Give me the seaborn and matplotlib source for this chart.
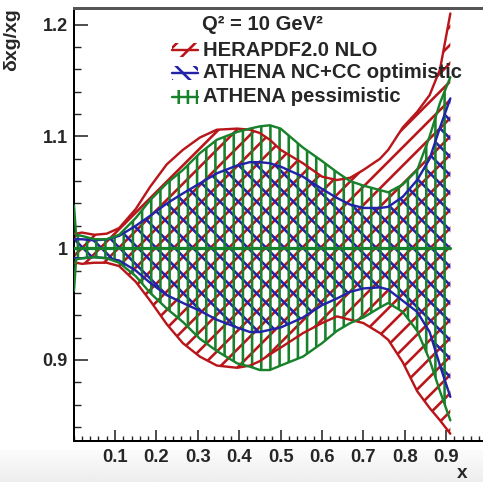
import numpy as np
import pandas as pd
import matplotlib
matplotlib.use("Agg")
import matplotlib.pyplot as plt
import seaborn as sns
from matplotlib.patches import Rectangle
from matplotlib.lines import Line2D
from matplotlib.ticker import MultipleLocator, FixedLocator

# ---- data: relative gluon uncertainty bands at Q^2 = 10 GeV^2 ----
x = [0.001, 0.006, 0.02, 0.05, 0.08, 0.11, 0.15, 0.185, 0.225, 0.264, 0.305,
     0.346, 0.395, 0.426, 0.45, 0.474, 0.5, 0.554, 0.6, 0.636, 0.668, 0.7,
     0.74, 0.76, 0.795, 0.83, 0.86, 0.885, 0.91]

hera_up = [1.013, 1.013, 1.014, 1.012, 1.013, 1.018, 1.035, 1.055, 1.075, 1.088, 1.099,
           1.106, 1.107, 1.106, 1.103, 1.097, 1.088, 1.076, 1.064, 1.061, 1.063, 1.070,
           1.080, 1.088, 1.108, 1.122, 1.137, 1.160, 1.210]
hera_lo = [0.987, 0.987, 0.986, 0.987, 0.987, 0.984, 0.970, 0.953, 0.932, 0.915, 0.903,
           0.895, 0.893, 0.895, 0.899, 0.905, 0.911, 0.924, 0.933, 0.939, 0.936, 0.933,
           0.924, 0.918, 0.898, 0.872, 0.857, 0.846, 0.834]

opt_up = [1.008, 1.008, 1.008, 1.007, 1.008, 1.011, 1.020, 1.029, 1.040, 1.049, 1.058,
          1.067, 1.074, 1.077, 1.077, 1.076, 1.073, 1.064, 1.053, 1.045, 1.039, 1.036,
          1.036, 1.037, 1.046, 1.061, 1.080, 1.108, 1.134]
opt_lo = [0.991, 0.991, 0.991, 0.992, 0.991, 0.989, 0.980, 0.969, 0.958, 0.951, 0.944,
          0.936, 0.929, 0.925, 0.925, 0.927, 0.929, 0.938, 0.949, 0.955, 0.961, 0.964,
          0.965, 0.963, 0.953, 0.943, 0.925, 0.895, 0.867]

pes_up = [1.038, 1.012, 1.011, 1.008, 1.008, 1.012, 1.027, 1.043, 1.058, 1.070, 1.085,
          1.097, 1.104, 1.107, 1.109, 1.110, 1.107, 1.090, 1.078, 1.068, 1.060, 1.056,
          1.052, 1.050, 1.057, 1.070, 1.100, 1.130, 1.153]
pes_lo = [0.962, 0.990, 0.991, 0.992, 0.991, 0.987, 0.975, 0.960, 0.946, 0.934, 0.919,
          0.908, 0.897, 0.894, 0.891, 0.891, 0.895, 0.903, 0.915, 0.926, 0.933, 0.938,
          0.947, 0.951, 0.943, 0.926, 0.900, 0.872, 0.846]

central = [1.0] * len(x)

series_names = ["HERAPDF2.0 NLO", "ATHENA NC+CC optimistic", "ATHENA pessimistic"]
header = "Q² = 10 GeV²"
x_ticks = [0.1, 0.2, 0.3, 0.4, 0.5, 0.6, 0.7, 0.8, 0.9]
x_ticklabels = ["0.1", "0.2", "0.3", "0.4", "0.5", "0.6", "0.7", "0.8", "0.9"]
y_ticks = [0.9, 1.0, 1.1, 1.2]
y_ticklabels = ["0.9", "1", "1.1", "1.2"]

# ---- styling ----
RED, BLUE, GREEN = "#b8161a", "#2323a8", "#17822b"
colors = [RED, BLUE, GREEN]
hatches = ["//", "\\\\", "||"]

DPI = 110
W, H = 483, 482
PT = 72.0 / DPI  # points per pixel
HATCH_LW = 2.6 * PT

sns.set_style("ticks")
plt.rcParams["font.family"] = ["Liberation Sans", "DejaVu Sans"]
plt.rcParams["hatch.linewidth"] = HATCH_LW


def thick_hatch(artist):
    if hasattr(artist, "set_hatch_linewidth"):
        artist.set_hatch_linewidth(HATCH_LW)
    else:
        artist._hatch_linewidth = HATCH_LW
    return artist


fig = plt.figure(figsize=(W / DPI, H / DPI), dpi=DPI)
fig.patch.set_facecolor("white")

# soft grey strip along the bottom edge
bg = fig.add_axes([0, 0, 1, 32 / H], zorder=-5)
grad = np.linspace(0.985, 0.93, 64).reshape(-1, 1)
bg.imshow(grad, aspect="auto", cmap="gray", vmin=0, vmax=1, extent=[0, 1, 0, 1])
bg.axis("off")

ax = fig.add_axes([73.6 / W, (H - 441) / H, 414 / W, 433 / H])
ax.set_facecolor("white")

bands = pd.DataFrame({"x": x,
                      "hera_up": hera_up, "hera_lo": hera_lo,
                      "opt_up": opt_up, "opt_lo": opt_lo,
                      "pes_up": pes_up, "pes_lo": pes_lo,
                      "central": central})

for (up, lo), col, hat in zip([("hera_up", "hera_lo"), ("opt_up", "opt_lo"),
                                ("pes_up", "pes_lo")], colors, hatches):
    coll = ax.fill_between(bands["x"], bands[lo], bands[up], facecolor="none",
                           edgecolor=col, hatch=hat, linewidth=0, zorder=2)
    thick_hatch(coll)
    for key in (up, lo):
        sns.lineplot(data=bands, x="x", y=key, ax=ax, color=col,
                     linewidth=2.4 * PT, legend=False, zorder=3)

sns.lineplot(data=bands, x="x", y="central", ax=ax, color=GREEN,
             linewidth=3.2 * PT, legend=False, zorder=4)

ax.set_xlim(0.0, 1.0)
ax.set_ylim(0.8275, 1.2149)
ax.set_xlabel("")
ax.set_ylabel("")

ax.xaxis.set_major_locator(FixedLocator(x_ticks))
ax.xaxis.set_minor_locator(MultipleLocator(0.02))
ax.yaxis.set_major_locator(FixedLocator(y_ticks))
ax.yaxis.set_minor_locator(MultipleLocator(0.02))
ax.set_xticklabels(x_ticklabels, fontsize=18.5 * PT, fontweight="bold")
ax.set_yticklabels(y_ticklabels, fontsize=18.0 * PT, fontweight="bold")

ax.tick_params(axis="y", which="major", direction="in", length=14 * PT,
               width=1.6 * PT, pad=6 * PT, left=True, right=False)
ax.tick_params(axis="y", which="minor", direction="in", length=7 * PT,
               width=1.4 * PT, left=True, right=False)
ax.tick_params(axis="x", which="major", direction="in", length=11 * PT,
               width=1.6 * PT, pad=8 * PT, bottom=True, top=False)
ax.tick_params(axis="x", which="minor", direction="in", length=5.5 * PT,
               width=1.4 * PT, bottom=True, top=False)

for side in ("left", "bottom"):
    ax.spines[side].set_linewidth(2.0 * PT)
    ax.spines[side].set_color("black")
ax.spines["top"].set_linewidth(3.0 * PT)
ax.spines["top"].set_color("#555555")
ax.spines["right"].set_linewidth(2.0 * PT)

# axis titles
fig.text(12 / W, 1 - 8 / H, "δxg/xg", rotation=90, ha="center", va="top",
         fontsize=19.5 * PT, fontweight="bold")
fig.text(462 / W, 1 - 473 / H, "x", ha="center", va="center",
         fontsize=19 * PT, fontweight="bold")

# legend
fs_leg = 20.2 * PT
fig.text(202 / W, 1 - 25 / H, header, ha="left", va="center",
         fontsize=fs_leg, fontweight="bold")
rows_y = [50, 73, 97]
for name, col, hat, yc in zip(series_names, colors, hatches, rows_y):
    sym = Rectangle((172 / W, 1 - (yc + 7) / H), 26 / W, 14 / H,
                    transform=fig.transFigure, facecolor="none",
                    edgecolor=col, hatch=hat, linewidth=0, zorder=5)
    fig.patches.append(thick_hatch(sym))
    fig.lines.append(Line2D([172 / W, 198 / W], [1 - yc / H, 1 - yc / H],
                            transform=fig.transFigure, color=col,
                            linewidth=2.4 * PT, zorder=6))
    fig.text(203 / W, 1 - yc / H, name, ha="left", va="center",
             fontsize=fs_leg, fontweight="bold")

fig.savefig("out.png", dpi=DPI)
